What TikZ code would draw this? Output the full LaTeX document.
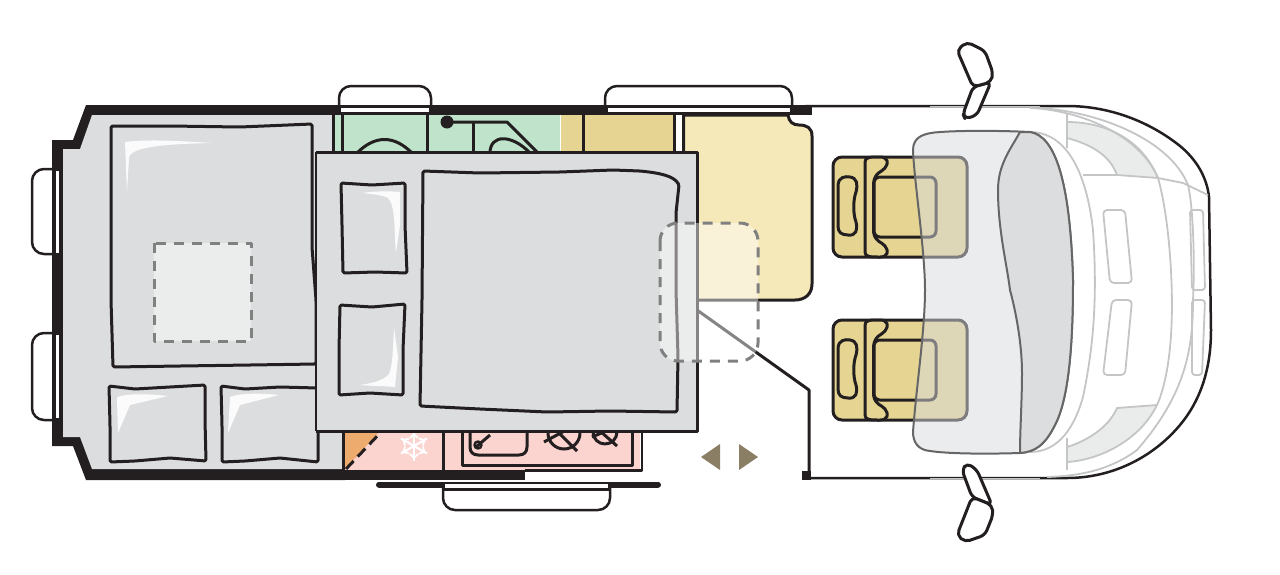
\documentclass[tikz,border=0pt]{standalone}
\usepackage{tikz}
\definecolor{wallcol}{HTML}{231F20}
\definecolor{bedgray}{HTML}{DCDDDE}
\definecolor{washgreen}{HTML}{BFE3CB}
\definecolor{cabtan}{HTML}{E6D592}
\definecolor{sofacream}{HTML}{F6E9B9}
\definecolor{kitchenpink}{HTML}{FBD3CF}
\definecolor{fridgeorange}{HTML}{EEAB6E}
\definecolor{hoodgray}{HTML}{D7D9DD}
\definecolor{cablight}{HTML}{C4C5C7}
\definecolor{arrowtan}{HTML}{8A7F65}
\begin{document}
\begin{tikzpicture}[x=1pt, y=-1pt, line join=round]
        \tikzstyle{wall} = [fill=wallcol, draw=none]
        \tikzstyle{ink} = [draw=wallcol, line width=3pt]
        \tikzstyle{pillow} = [draw=wallcol, line width=3pt, fill=bedgray, rounded corners=1.5pt]
        \tikzstyle{shine} = [fill=white, draw=none, opacity=0.9]
        \tikzstyle{tab} = [draw=wallcol, line width=2.5pt, fill=white, rounded corners=12pt]
        \tikzstyle{slit} = [fill=white, draw=none]
        \tikzstyle{dashbox} = [draw=black!50, line width=3pt, dash pattern=on 10pt off 8pt]
        \tikzstyle{cabline} = [draw=cablight, line width=1.8pt]
        \tikzstyle{hoodline} = [draw=black!60, line width=2pt]
        \tikzstyle{mirror} = [draw=wallcol, line width=3pt, fill=white, rounded corners=5pt]

        \useasboundingbox (0,0) rectangle (1280,574);

        % window tabs
        \draw[tab] (339,110) -- (339,86) -- (431,86) -- (431,110);
        \draw[tab] (605,110) -- (605,86) -- (792,86) -- (792,110);
        \draw[tab] (60,169) -- (32,169) -- (32,254) -- (60,254);
        \draw[tab] (60,333) -- (32,333) -- (32,420) -- (60,420);
        \draw[tab] (443,485) -- (443,510) -- (610,510) -- (610,485);

        % rear shell
        \fill[wall] (86,105) -- (340,105) -- (345,480) -- (86,480) -- (73,446) -- (52,446) -- (52,140) -- (73,140) -- cycle;
        \fill[bedgray] (92,115) -- (336,115) -- (345,152) -- (345,469) -- (92,469) -- (80,437) -- (63,437) -- (63,149) -- (80,149) -- cycle;
        \fill[slit] (55.5,171) rectangle (59,253);
        \fill[slit] (55.5,335) rectangle (59,418);

        % washroom
        \fill[washgreen] (335,115) rectangle (560,155);
        \draw[ink] (333.5,115) -- (333.5,155);
        \draw[ink] (342.5,115) -- (342.5,155);
        \draw[ink] (427,115) -- (427,155);
        \draw[ink] (473,122) -- (473,155);
        \draw[ink] (447,122) -- (507,122) -- (540,155);
        \fill[wallcol] (447,122) circle (6.5pt);
        \draw[ink] (357,153) .. controls (375,135) and (394,135) .. (412,153);
        \draw[ink] (490,153) .. controls (490,134) and (512,134) .. (530,153);

        % wardrobe and sofa
        \fill[cabtan] (561,115) rectangle (673,155);
        \draw[ink] (583.5,115) -- (583.5,155);
        \draw[ink] (674,115) -- (674,155);
        \draw[ink, fill=sofacream] (683.5,115) -- (788,115) .. controls (789,122) and (793,125) .. (799,125) .. controls (807,125) and (812,128) .. (812,136) -- (812,284) .. controls (812,294) and (805,300) .. (795,300) -- (683.5,300) -- cycle;

        % kitchen
        \fill[kitchenpink] (345,431) rectangle (640,470);
        \fill[fridgeorange] (345,431) -- (380,431) -- (345,469) -- cycle;
        \draw[wallcol, line width=3pt, dash pattern=on 11pt off 6pt] (346,469) -- (382,431);
        \draw[ink] (343.5,431) -- (343.5,470);
        \draw[ink] (443,431) -- (443,470);
        \draw[ink] (462,431) -- (462,465.5) -- (632,465.5) -- (632,431);
        \draw[draw=wallcol, line width=2.4pt] (525,470.5) -- (642,470.5) -- (642,431);
        \draw[ink] (470,431) -- (470,447) .. controls (470,452) and (473,455) .. (478,455) -- (519,455) .. controls (524,455) and (527,452) .. (527,447) -- (527,431);
        \draw[wallcol, line width=2.4pt] (478,445) circle (3.5pt);
        \draw[ink] (476,447) -- (490,435);
        \draw[ink] (564,433) circle (16pt);
        \draw[ink] (544,442) -- (568,429);
        \draw[ink] (555,429) -- (577,451);
        \draw[ink] (605,432) circle (12pt);
        \draw[ink] (592,437) -- (606,431);
        \draw[ink] (600,431) -- (617,446);
        \foreach \snowang in {30,90,150,210,270,330} {
            \begin{scope}[shift={(414,446)}, rotate=\snowang]
                \draw[white, line width=2.2pt] (0,0) -- (15,0);
                \draw[white, line width=1.8pt] (8,-4) -- (12,0) -- (8,4);
            \end{scope}
        }

        % outer walls
        \fill[wall] (340,105) rectangle (812,115);
        \fill[wall] (340,470) rectangle (525,480);
        \fill[slit] (341,108) rectangle (429,112);
        \fill[slit] (608,108) rectangle (790,112);
        \draw[wallcol, line width=6pt, line cap=round] (379,484.5) -- (658,484.5);
        \fill[slit] (445,484) rectangle (608,488);
        \draw[draw=wallcol, line width=2.4pt] (443,489.5) -- (610,489.5);

        % rear bed
        \draw[pillow] (111,126) -- (170,126) -- (240,127) -- (312,124) -- (312,247) -- (316,300) -- (316,364) -- (250,365) -- (180,366) -- (113,367) -- (111,300) -- (111,200) -- cycle;
        \fill[shine] (125,142) .. controls (150,139) and (180,141) .. (212,143) .. controls (170,144) and (130,146) .. (129,158) -- (127,192) -- cycle;
        \draw[dashbox, fill=white, fill opacity=0.45] (154,243) rectangle (251,341);
        \draw[pillow] (109,386) -- (135,389) -- (170,387) -- (205,385) -- (205,420) -- (206,461) -- (170,458) -- (135,461) -- (110,462) -- (110,425) -- cycle;
        \fill[shine] (117,397) .. controls (130,393) and (150,394) .. (168,396) -- (130,405) -- (118,433) -- cycle;
        \draw[pillow] (221,386) -- (245,389) -- (280,387) -- (318,388) -- (318,420) -- (318,462) -- (280,458) -- (245,461) -- (222,462) -- (222,425) -- cycle;
        \fill[shine] (230,397) .. controls (240,393) and (260,393) .. (279,395) -- (240,405) -- (228,433) -- cycle;

        % drop-down bed
        \fill[bedgray] (316,152) rectangle (697,431);
        \draw[wallcol, line width=1.5pt] (316,152) -- (316,431);
        \draw[wallcol, line width=3pt] (316,152) -- (697,152) -- (697,431) -- (316,431);
        \draw[pillow] (341,183) -- (372,185) -- (405,183) -- (405,225) -- (407,273) -- (375,272) -- (343,273) -- (342,225) -- cycle;
        \fill[shine] (362,193) .. controls (375,191) and (390,191) .. (400,192) -- (400,225) -- (396,253) .. controls (394,235) and (396,205) .. (388,198) .. controls (382,195) and (372,194) .. (362,193) -- cycle;
        \draw[pillow] (340,305) -- (372,307) -- (405,304) -- (403,350) -- (403,395) -- (370,393) -- (339,395) -- (339,350) -- cycle;
        \fill[shine] (394,327) -- (398,357) -- (395,387) .. controls (385,386) and (372,386) .. (360,385) .. controls (372,383) and (383,381) .. (389,374) .. controls (393,365) and (393,345) .. (394,327) -- cycle;
        \draw[pillow] (423,171) -- (480,173) -- (560,172) -- (613,170) -- (640,171) .. controls (660,173) and (674,176) .. (679,185) -- (676,213) -- (676,290) -- (678,357) -- (677,412) -- (610,411) -- (547,412) -- (480,409) -- (420,406) -- (422,300) -- cycle;

        % entrance step, arrows
        \draw[draw=wallcol, line width=3pt] (697,310) -- (809,390) -- (809,472);
        \fill[wall] (802,471) rectangle (811,480);
        \fill[arrowtan] (701,457) -- (720,444) -- (720,470) -- cycle;
        \fill[arrowtan] (739,444) -- (758,457) -- (739,470) -- cycle;
        \draw[dashbox, fill=white, fill opacity=0.45, rounded corners=18pt] (660,223) rectangle (758,361);

        % cab seats
        \foreach \seaty in {0,163} {
            \begin{scope}[shift={(0,\seaty)}]
                \draw[ink, fill=cabtan, rounded corners=9pt] (833,157) rectangle (967,257);
                \draw[ink, fill=cabtan, rounded corners=6pt] (874,177) rectangle (936,237);
                \draw[ink, fill=cabtan] (865,162) .. controls (865,157) and (870,157) .. (880,157) .. controls (888,157) and (889,163) .. (885,168) .. controls (882,172) and (875,172) .. (873.5,183) -- (873.5,232) .. controls (875,242) and (882,242) .. (885,246) .. controls (889,251) and (888,257) .. (880,257) .. controls (870,257) and (865,257) .. (865,252) -- cycle;
                \draw[ink, fill=cabtan] (838,186) .. controls (838,177) and (845,176) .. (850,177) .. controls (857,178) and (858,184) .. (856,192) .. controls (853,200) and (853,214) .. (856,222) .. controls (858,230) and (856,236) .. (848,235) .. controls (841,235) and (838,232) .. (838,226) -- cycle;
            \end{scope}
        }

        % cab shell
        \draw[draw=wallcol, line width=2.5pt] (805,106) -- (1067,106) .. controls (1110,106) and (1150,122) .. (1180,146) .. controls (1197,160) and (1207,178) .. (1209,197) -- (1211,330) .. controls (1211,360) and (1205,395) .. (1180,425) .. controls (1155,455) and (1115,478) .. (1067,478) -- (811,478);
        \draw[draw=cablight, line width=1pt] (930,106) -- (1040,106);
        \draw[draw=cablight, line width=1pt] (930,478) -- (1040,478);

        % hood and windscreen
        \fill[bedgray!60, draw=none] (1067,122) .. controls (1100,122) and (1140,135) .. (1158,178) -- (1117,175) .. controls (1110,155) and (1090,144) .. (1067,138) -- cycle;
        \fill[bedgray!60, draw=none] (1157,405) -- (1117,408) .. controls (1110,425) and (1090,440) .. (1067,447) -- (1067,462) .. controls (1100,460) and (1140,440) .. (1157,405) -- cycle;
        \draw[cabline] (1040,108) .. controls (1100,112) and (1170,140) .. (1188,185) .. controls (1193,205) and (1195,260) .. (1193,300) .. controls (1193,350) and (1185,395) .. (1137,450) .. controls (1110,470) and (1080,476) .. (1047,477);
        \draw[cabline] (1030,108) .. controls (1080,110) and (1140,135) .. (1158,178) .. controls (1170,220) and (1175,300) .. (1170,347) .. controls (1168,370) and (1163,392) .. (1157,405);
        \draw[cabline] (1067,113) -- (1067,148);
        \draw[cabline] (1067,438) -- (1067,470);
        \draw[cabline] (1083,175) -- (1117,175) -- (1158,178) -- (1183,183) -- (1208,195);
        \draw[cabline] (1067,122) .. controls (1100,122) and (1140,135) .. (1158,178);
        \draw[cabline] (1067,138) .. controls (1090,144) and (1110,155) .. (1117,175);
        \draw[cabline] (1157,405) -- (1117,408) .. controls (1110,425) and (1090,440) .. (1067,447);
        \draw[cabline] (1067,462) .. controls (1100,460) and (1140,440) .. (1157,405);
        \draw[cabline] (1030,132) .. controls (1060,132) and (1085,160) .. (1093,230) .. controls (1097,290) and (1095,340) .. (1083,397) .. controls (1075,425) and (1060,452) .. (1030,452);
        \draw[cabline, rounded corners=4pt] (1103,210) -- (1125,210) -- (1132,283) -- (1110,283) -- cycle;
        \draw[cabline, rounded corners=4pt] (1112,300) -- (1132,300) -- (1125,375) -- (1103,375) -- cycle;
        \draw[cabline, rounded corners=3pt] (1190,210) -- (1203,210) -- (1205,290) -- (1192,290) -- cycle;
        \draw[cabline, rounded corners=3pt] (1192,300) -- (1205,300) -- (1202,375) -- (1192,375) -- cycle;
        \draw[hoodline, fill=hoodgray, fill opacity=0.5] (913,150) .. controls (913,136) and (925,133) .. (940,132) .. controls (970,130) and (1010,131) .. (1030,132) .. controls (1055,136) and (1070,180) .. (1073,280) .. controls (1073,350) and (1068,400) .. (1055,425) .. controls (1045,445) and (1035,452) .. (1020,453) .. controls (990,454) and (950,454) .. (930,451) .. controls (918,450) and (913,442) .. (913,432) .. controls (916,390) and (925,330) .. (925,290) .. controls (925,250) and (914,180) .. (913,150) -- cycle;
        \draw[hoodline, fill=bedgray] (1020,132) .. controls (1010,150) and (998,165) .. (998,190) .. controls (998,230) and (1007,265) .. (1010,290) .. controls (1018,320) and (1022,350) .. (1022,373) .. controls (1022,400) and (1020,430) .. (1020,453) .. controls (1035,452) and (1045,445) .. (1055,425) .. controls (1068,400) and (1073,350) .. (1073,280) .. controls (1070,180) and (1055,136) .. (1030,132) -- cycle;

        % door mirrors
        \draw[mirror] (973,87) -- (963,114) -- (965,119) -- (977,115) -- (991,82) -- cycle;
        \draw[mirror] (957,50) -- (967,42) -- (985,51) -- (993,73) -- (991,82) -- (973,87) -- cycle;
        \draw[mirror] (972,497) -- (962,470) -- (967,463) -- (977,470) -- (992,505) -- cycle;
        \draw[mirror] (957,535) -- (965,542) -- (985,535) -- (993,515) -- (992,505) -- (972,497) -- cycle;

    \end{tikzpicture}
\end{document}
